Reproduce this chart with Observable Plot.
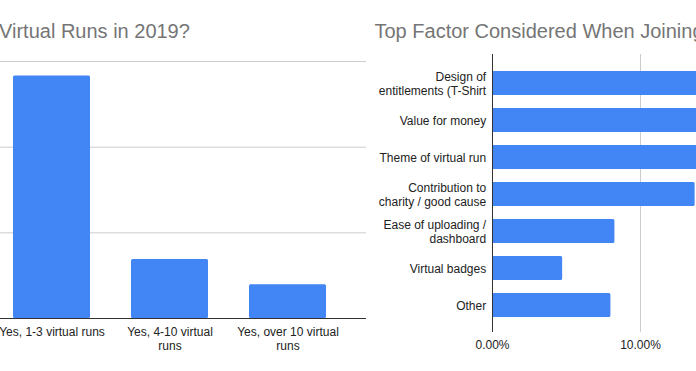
<!DOCTYPE html>
<html>
<head>
<meta charset="utf-8">
<script src="https://cdn.jsdelivr.net/npm/d3@7"></script>
<script src="https://cdn.jsdelivr.net/npm/@observablehq/plot@0.6"></script>
<style>
  html, body { margin: 0; padding: 0; background: #fff; }
  #wrap { position: relative; width: 696px; height: 371px; overflow: hidden; background: #fff;
          font-family: "Liberation Sans", Arial, sans-serif; }
  .title { position: absolute; top: 20.8px; font-size: 20px; line-height: 20px; color: #757575; white-space: nowrap; }
  .panel { position: absolute; top: 0; }
  .panel svg { display: block; }
</style>
</head>
<body>
<div id="wrap">
  <div class="title" style="left:-1px">Virtual Runs in 2019?</div>
  <div class="title" style="left:374.5px">Top Factor Considered When Joining</div>
  <div class="panel" id="left" style="left:-60px"></div>
  <div class="panel" id="right" style="left:366px"></div>
</div>
<script>
// Left chart: virtual runs joined in 2019 (value axis labels are cropped out of view)
const runCategories = ["Yes, 1-3 virtual runs", "Yes, 4-10 virtual runs", "Yes, over 10 virtual runs"];
const runLabels = ["Yes, 1-3 virtual runs", "Yes, 4-10 virtual\nruns", "Yes, over 10 virtual\nruns"];
const runValues = [56.6, 13.8, 7.9];
const runGridTicks = [0, 20, 40, 60];

// Right chart: top factor considered when joining
const factors = ["Design of entitlements (T-Shirt", "Value for money", "Theme of virtual run",
  "Contribution to charity / good cause", "Ease of uploading / dashboard", "Virtual badges", "Other"];
const factorLabels = ["Design of\nentitlements (T-Shirt", "Value for money", "Theme of virtual run",
  "Contribution to\ncharity / good cause", "Ease of uploading /\ndashboard", "Virtual badges", "Other"];
const factorShares = [0.253, 0.209, 0.181, 0.1369, 0.0827, 0.0474, 0.080];
const shareTicks = [0, 0.1];

const FONT = "'Liberation Sans', Arial, sans-serif";
const BLUE = "#4285f4";

const runs = runCategories.map((c, i) => ({category: c, label: runLabels[i], value: runValues[i]}));
const factorData = factors.map((f, i) => ({factor: f, label: factorLabels[i], share: factorShares[i]}));

const left = Plot.plot({
  width: 426, height: 371,
  marginLeft: 0, marginRight: 0, marginTop: 61, marginBottom: 53,
  style: {fontFamily: FONT, fontSize: "12px", background: "transparent", overflow: "visible"},
  x: {domain: runCategories, range: [51.25, 406.75], paddingInner: 0.35, paddingOuter: 0.175, axis: null},
  y: {domain: [0, 60], range: [318, 61], axis: null},
  marks: [
    Plot.ruleY(runGridTicks.filter(d => d > 0), {stroke: "#cccccc", strokeWidth: 1}),
    Plot.barY(runs, {x: "category", y: "value", fill: BLUE, rx: 1.5}),
    Plot.ruleY([0], {stroke: "#333333", strokeWidth: 1}),
    Plot.text(runs, {x: "category", text: "label", frameAnchor: "bottom", lineAnchor: "top",
      dy: 7.8, lineHeight: 14 / 12, fill: "#222222", fontSize: 12})
  ]
});
document.getElementById("left").appendChild(left);

const right = Plot.plot({
  width: 330, height: 371,
  marginLeft: 126, marginRight: 0, marginTop: 54, marginBottom: 39,
  style: {fontFamily: FONT, fontSize: "12px", background: "transparent", overflow: "visible"},
  x: {domain: [0, 0.3], range: [126, 570], axis: null},
  y: {domain: factors, range: [61.4, 326], paddingInner: 0.35, paddingOuter: 0.175, axis: null},
  marks: [
    Plot.ruleX(shareTicks.filter(d => d > 0), {stroke: "#cccccc", strokeWidth: 1}),
    Plot.barX(factorData, {y: "factor", x: "share", fill: BLUE, rx: 1.5}),
    Plot.ruleX([0], {stroke: "#333333", strokeWidth: 1}),
    Plot.text(factorData, {y: "factor", x: () => 0, text: "label", textAnchor: "end", dx: -6.3,
      lineHeight: 14 / 12, fill: "#222222", fontSize: 12}),
    Plot.text(shareTicks, {x: d => d, text: d => d3.format(".2%")(d), frameAnchor: "bottom",
      lineAnchor: "top", dy: 7.8, fill: "#222222", fontSize: 12})
  ]
});
document.getElementById("right").appendChild(right);
</script>
</body>
</html>
